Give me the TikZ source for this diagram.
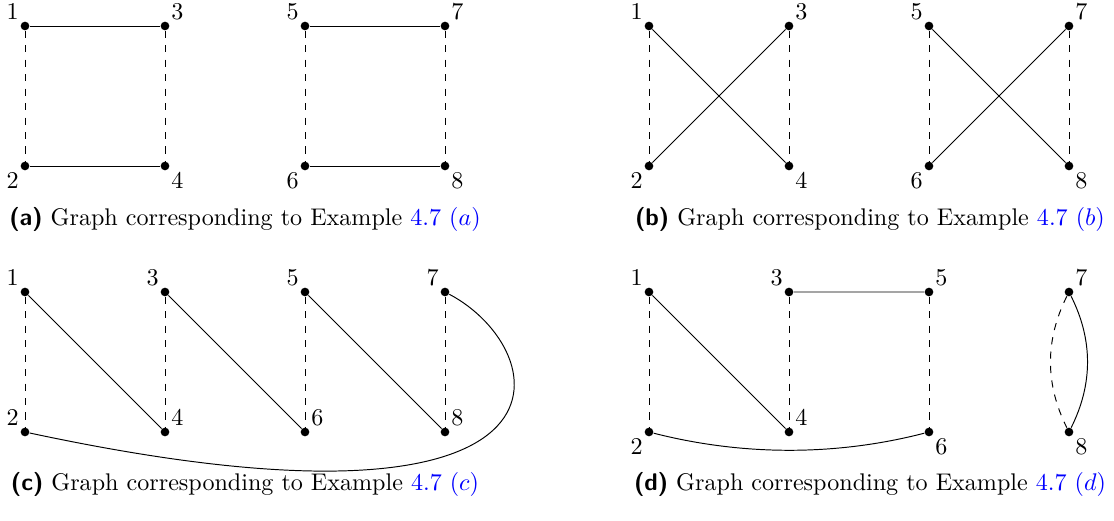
\documentclass[tikz,border=0pt]{standalone}
\usepackage{amsmath}
\usepackage{tikz}
\usetikzlibrary{positioning}
\definecolor{linkblue}{RGB}{0,0,255}
\newcommand{\subcap}[2]{\textsf{\textbf{(#1)}} Graph corresponding to Example \textcolor{linkblue}{4.7 $(#2)$}}
\tikzset{
	vertice/.style={circle, fill=black, inner sep=0pt, minimum size=3.6pt},
	etiq/.style={inner sep=1pt},
}

\begin{document}
\begin{tikzpicture}[x=0.415pt, y=-0.415pt]
	\useasboundingbox (0,0) rectangle (1114,521);
	% (a)
	\foreach \n/\x/\y/\p in {1/25/26/above left, 3/165/26/above right, 2/25/166/below left, 4/165/166/below right,
		5/305/26/above left, 7/445/26/above right, 6/305/166/below left, 8/445/166/below right}
		\node[vertice, label={[etiq]\p:\n}] (a\n) at (\x,\y) {};
	\draw (a1) -- (a3) (a2) -- (a4) (a5) -- (a7) (a6) -- (a8);
	\draw[dashed] (a1) -- (a2) (a3) -- (a4) (a5) -- (a6) (a7) -- (a8);
	\node[anchor=base] (capa) at (245,226) {\subcap{a}{a}};
	% (b)
	\foreach \n/\x/\y/\p in {1/649/26/above left, 3/789/26/above right, 2/649/166/below left, 4/789/166/below right,
		5/929/26/above left, 7/1069/26/above right, 6/929/166/below left, 8/1069/166/below right}
		\node[vertice, label={[etiq]\p:\n}] (b\n) at (\x,\y) {};
	\draw (b1) -- (b4) (b3) -- (b2) (b5) -- (b8) (b7) -- (b6);
	\draw[dashed] (b1) -- (b2) (b3) -- (b4) (b5) -- (b6) (b7) -- (b8);
	\node[anchor=base] (capb) at (870,226) {\subcap{b}{b}};
	% (c)
	\foreach \n/\x/\y/\p in {1/25/292/above left, 3/165/292/above left, 5/305/292/above left, 7/445/292/above left,
		2/25/432/above left, 4/165/432/above right, 6/305/432/above right, 8/445/432/above right}
		\node[vertice, label={[etiq]\p:\n}] (c\n) at (\x,\y) {};
	\draw (c1) -- (c4) (c3) -- (c6) (c5) -- (c8);
	\draw[dashed] (c1) -- (c2) (c3) -- (c4) (c5) -- (c6) (c7) -- (c8);
	\draw (c7) .. controls (555,350) and (600,555) .. (c2);
	\node[anchor=base] (capc) at (245,491) {\subcap{c}{c}};
	% (d)
	\foreach \n/\x/\y/\p in {1/649/292/above left, 3/789/292/above left, 5/929/292/above right, 7/1069/292/above right,
		2/649/432/below left, 4/789/432/above right, 6/929/432/below right, 8/1069/432/below right}
		\node[vertice, label={[etiq]\p:\n}] (d\n) at (\x,\y) {};
	\draw (d1) -- (d4) (d3) -- (d5);
	\draw[dashed] (d1) -- (d2) (d3) -- (d4) (d5) -- (d6);
	\draw (d2) .. controls (743,456) and (836,456) .. (d6);
	\draw (d7) .. controls (1093,340) and (1093,384) .. (d8);
	\draw[dashed] (d7) .. controls (1045,340) and (1045,384) .. (d8);
	\node[anchor=base] (capd) at (870,491) {\subcap{d}{d}};
\end{tikzpicture}
\end{document}
